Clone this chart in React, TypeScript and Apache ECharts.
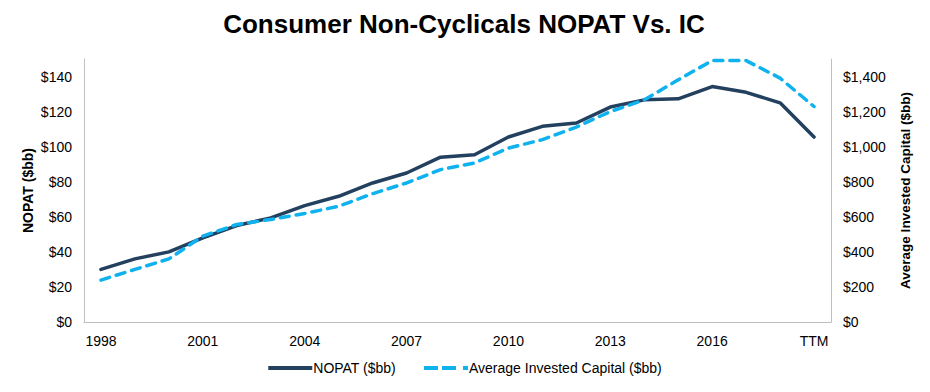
import React, { useEffect, useRef } from "react";
import * as echarts from "echarts";

const categories = [
  "1998", "1999", "2000", "2001", "2002", "2003", "2004", "2005", "2006", "2007",
  "2008", "2009", "2010", "2011", "2012", "2013", "2014", "2015", "2016", "2017",
  "2018", "TTM",
];
const nopat = [
  30, 36, 40, 48, 55, 59.4, 66.4, 71.7, 79.3, 85, 94, 95.4, 105.5, 111.6, 113.5,
  122.6, 126.7, 127.3, 134.3, 131, 125, 105.5,
];
const investedCapital = [
  239, 300, 360, 490, 556, 585, 619, 660, 732, 793, 869, 907, 992, 1040, 1112,
  1200, 1267, 1381, 1491, 1491, 1391, 1229,
];
const labelIndexes = [0, 3, 6, 9, 12, 15, 18, 21];

const FONT = "Liberation Sans, Arial, sans-serif";
const NAVY = "#24405f";
const BLUE = "#0fb2ee";

export default function App() {
  const ref = useRef<HTMLDivElement>(null);
  useEffect(() => {
    if (!ref.current) return;
    const chart = echarts.init(ref.current, undefined, { renderer: "svg" });
    const axisLine = { show: true, lineStyle: { color: "#bfbfbf", width: 1 } };
    chart.setOption({
      animation: false,
      textStyle: { fontFamily: FONT },
      title: {
        text: "Consumer Non-Cyclicals NOPAT Vs. IC",
        left: 459,
        textAlign: "center",
        top: 6,
        textStyle: { fontFamily: FONT, fontSize: 26, fontWeight: "bold", color: "#000" },
      },
      legend: {
        bottom: 12,
        left: "center",
        itemWidth: 44,
        itemHeight: 4,
        itemGap: 28,
        textStyle: { fontFamily: FONT, fontSize: 14, color: "#000", padding: [0, 0, 0, -4] },
        data: [
          { name: "NOPAT ($bb)", icon: "path://M0,0h44v4h-44z", itemStyle: { color: NAVY } },
          {
            name: "Average Invested Capital ($bb)",
            icon: "path://M0,0h14v4h-14z M18,0h14v4h-14z M39,0h5v4h-5z",
            itemStyle: { color: BLUE },
          },
        ],
      },
      grid: { left: 84, right: 99, top: 59, bottom: 70, containLabel: false },
      xAxis: {
        type: "category",
        data: categories,
        boundaryGap: true,
        axisLine,
        axisTick: { show: false },
        axisLabel: {
          interval: (i: number) => labelIndexes.includes(i),
          fontFamily: FONT,
          fontSize: 14,
          color: "#000",
          margin: 12,
        },
      },
      yAxis: [
        {
          type: "value",
          min: 0,
          max: 150,
          interval: 20,
          name: "NOPAT ($bb)",
          nameLocation: "middle",
          nameGap: 49,
          nameMoveOverlap: false,
          nameTextStyle: { fontFamily: FONT, fontSize: 14, fontWeight: "bold", color: "#000" },
          axisLine,
          axisTick: { show: false },
          splitLine: { show: false },
          axisLabel: {
            showMaxLabel: false,
            fontFamily: FONT,
            fontSize: 14,
            color: "#000",
            margin: 12,
            formatter: (v: number) => "$" + v,
          },
        },
        {
          type: "value",
          min: 0,
          max: 1500,
          interval: 200,
          name: "Average Invested Capital ($bb)",
          nameLocation: "middle",
          nameGap: 67,
          nameRotate: 90,
          nameTextStyle: { fontFamily: FONT, fontSize: 13.5, fontWeight: "bold", color: "#000" },
          axisLine,
          axisTick: { show: false },
          splitLine: { show: false },
          axisLabel: {
            showMaxLabel: false,
            fontFamily: FONT,
            fontSize: 14,
            color: "#000",
            margin: 12,
            formatter: (v: number) => "$" + v.toLocaleString("en-US"),
          },
        },
      ],
      series: [
        {
          name: "NOPAT ($bb)",
          type: "line",
          data: nopat,
          yAxisIndex: 0,
          symbol: "none",
          lineStyle: { color: NAVY, width: 3.5, cap: "round", join: "round" },
          itemStyle: { color: NAVY },
        },
        {
          name: "Average Invested Capital ($bb)",
          type: "line",
          data: investedCapital,
          yAxisIndex: 1,
          symbol: "none",
          lineStyle: { color: BLUE, width: 3.5, type: [9, 7], cap: "round" },
          itemStyle: { color: BLUE },
        },
      ],
    });
    return () => chart.dispose();
  }, []);
  return <div ref={ref} style={{ width: 930, height: 392, position: "absolute", left: 0, top: 0 }} />;
}
